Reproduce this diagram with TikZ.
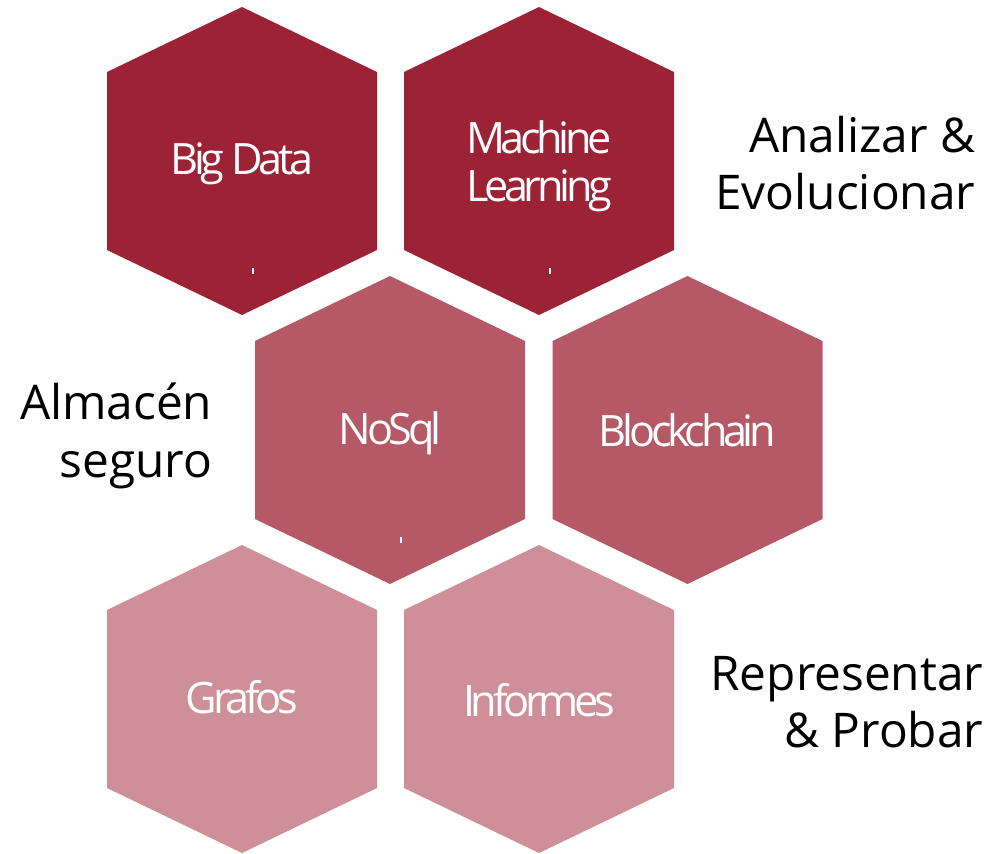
\documentclass[tikz,border=0pt]{standalone}
\usepackage{fontspec}
\setmainfont{Open Sans}
\newfontfamily\hexfont[LetterSpace=-10]{Open Sans}
\usepackage{tikz}

\definecolor{vino}{RGB}{156,34,54}
\definecolor{vinomedio}{RGB}{180,89,101}
\definecolor{vinoclaro}{RGB}{206,143,152}

\tikzset{
	hextexto/.style={text=white,align=center,inner sep=0pt,font=\hexfont\fontsize{12.3}{13.7}\selectfont},
	lado/.style={text=black,align=right,anchor=east,inner sep=0pt,font=\fontsize{13.6}{16.3}\selectfont},
	marca/.style={white,line width=0.3pt}
}

% celda hexagonal: centro x, centro y, color
\newcommand{\celda}[3]{%
	\fill[#3] (#1,#2) ++(0,1.54) -- ++(1.35,-0.65) -- ++(0,-1.78) -- ++(-1.35,-0.65) -- ++(-1.35,0.65) -- ++(0,1.78) -- cycle;}

\begin{document}
\begin{tikzpicture}
	\useasboundingbox (0,0) rectangle (9.96,8.53);
	\celda{2.42}{6.92}{vino}
	\celda{5.39}{6.92}{vino}
	\celda{3.90}{4.23}{vinomedio}
	\celda{6.875}{4.23}{vinomedio}
	\celda{2.42}{1.54}{vinoclaro}
	\celda{5.39}{1.54}{vinoclaro}
	\draw[marca] (2.53,5.79) -- (2.53,5.85);
	\draw[marca] (5.50,5.79) -- (5.50,5.85);
	\draw[marca] (4.01,3.10) -- (4.01,3.16);
	\node[hextexto] (bigdata) at (2.42,6.89) {Big Data};
	\node[hextexto] (machine) at (5.39,6.87) {Machine\\Learning};
	\node[hextexto] (nosql) at (3.90,4.20) {NoSql};
	\node[hextexto] (blockchain) at (6.875,4.23) {Blockchain};
	\node[hextexto] (grafos) at (2.42,1.56) {Grafos};
	\node[hextexto] (informes) at (5.39,1.53) {Informes};
	\node[lado] (analizar) at (9.76,6.90) {Analizar \&\\Evolucionar};
	\node[lado] (almacen) at (2.13,4.17) {Almacén\\seguro};
	\node[lado] (representar) at (9.84,1.51) {Representar\\\& Probar};
\end{tikzpicture}
\end{document}
